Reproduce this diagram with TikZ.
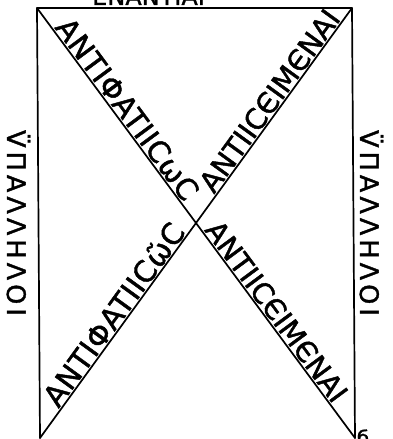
\documentclass[tikz,border=0pt]{standalone}
\usepackage{fontspec}
\setmainfont{DejaVu Sans}[FakeBold=1.2]
\newfontfamily\phifont{DejaVu Sans}[LetterSpace=2,FakeBold=1.5]
\newfontfamily\keifont{DejaVu Sans}[FakeBold=1.5]
\newfontfamily\sidefont{DejaVu Sans}[LetterSpace=16,FakeBold=1.5]
\begin{document}
\begin{tikzpicture}[x=1pt,y=-1pt,
  edge/.style={line width=1.7pt, line cap=round, line join=round},
  philabel/.style={sloped, above, inner sep=1.5pt, font=\phifont\fontsize{29.5}{29.5}\selectfont},
  keilabel/.style={sloped, above, inner sep=1.5pt, font=\keifont\fontsize{28.5}{28.5}\selectfont},
  sidelabel/.style={rotate=-90, anchor=base, inner sep=0pt, font=\sidefont\fontsize{25.5}{25.5}\selectfont},
  toplabel/.style={anchor=base west, inner sep=0pt, font=\fontsize{24}{24}\selectfont}]
\useasboundingbox (0,0) rectangle (392,439);
\coordinate (TL) at (37,8);
\coordinate (TR) at (352,8);
\coordinate (BL) at (40,438);
\coordinate (BR) at (355,438);
\coordinate (X) at (intersection of TL--BR and TR--BL);
\draw[edge] (BL) -- (TL) -- (TR) -- (BR);
\draw[edge] (TL) -- (BR);
\draw[edge] (TR) -- (BL);
\path (TL) -- (X) node[philabel, pos=0.505] (d1) {ANTIΦATIICωC};
\path (X) -- (TR) node[keilabel, pos=0.535] (d2) {ANTIICЄIMЄNAI};
\path (BL) -- (X) node[philabel, pos=0.54] (d3) {ANTIΦATIICῶC};
\path (X) -- (BR) node[keilabel, pos=0.445] (d4) {ANTIICЄIMЄNAI};
\node[sidelabel] (s1) at (7,223) {V̈ΠΑΛΛΗΛΟΙ};
\node[sidelabel] (s2) at (360,223) {V̈ΠΑΛΛΗΛΟΙ};
\node[toplabel] (t1) at (92,5) {ΕΝΑΝΤΙΑΙ};
\node[anchor=base, inner sep=0pt, font=\fontsize{20}{20}\selectfont] (pg) at (363,445) {б};
\end{tikzpicture}
\end{document}
